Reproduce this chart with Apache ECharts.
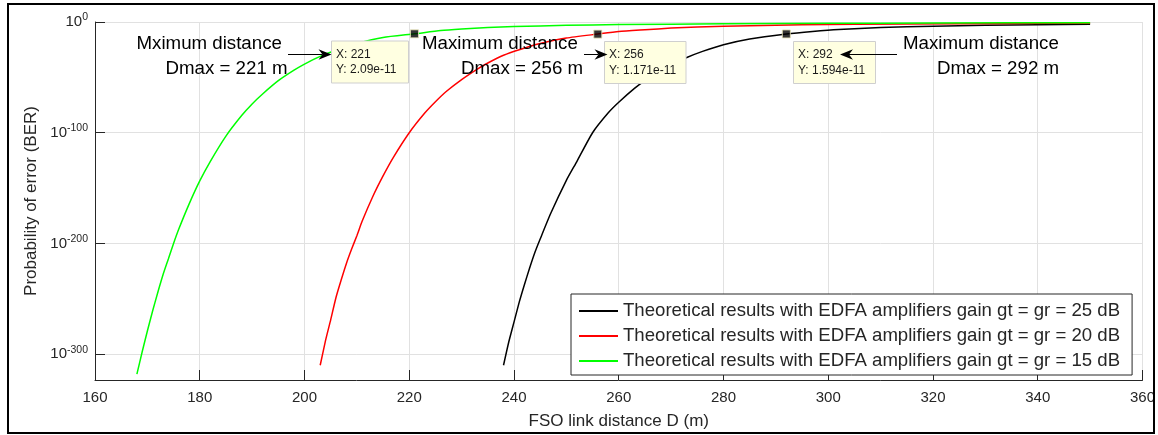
<!DOCTYPE html>
<html>
<head>
<meta charset="utf-8">
<script src="https://cdn.jsdelivr.net/npm/echarts@6/dist/echarts.min.js"></script>
<style>
  html, body { margin: 0; padding: 0; background: #fff; }
  #chart { width: 1158px; height: 435px; }
</style>
</head>
<body>
<div id="chart"></div>
<script>
// distances (m) and log10(BER)
const blackDist = [238, 239, 240, 241, 242, 243, 244, 245, 247, 250, 252, 255, 258, 260, 263, 265, 268, 270, 273, 276, 280, 285, 292, 297, 302, 310, 320, 330, 340, 350];
const blackLogBer = [-310, -289, -271, -253, -237, -222, -208, -196, -173, -143, -126, -100, -82, -72.5, -60, -53, -44, -38.5, -32, -26.5, -20.5, -15.3, -10.8, -8.5, -6.7, -5, -3.8, -3, -2.5, -2.1];

const redDist = [203, 204, 205, 206, 207, 208, 209, 210, 211, 213, 215, 217, 220, 223, 225, 227, 230, 233, 235, 238, 241, 245, 250, 256, 260, 265, 270, 275, 285, 295, 315, 335, 350];
const redLogBer = [-310, -288, -269, -249, -233, -218, -205, -193, -180, -158, -139, -122, -100, -82, -72, -63, -52, -42.5, -37, -30, -25, -19.5, -14.5, -10.9, -8.6, -7, -5.5, -4.5, -3.3, -2.5, -1.7, -1.3, -1.1];

const greenDist = [168, 169, 170, 171, 172, 173, 174, 175, 176, 178, 180, 182, 185, 188, 190, 192, 195, 198, 200, 203, 206, 210, 215, 221, 226, 230, 235, 240, 250, 260, 280, 300, 320, 350];
const greenLogBer = [-318, -298, -279, -261, -244, -228, -214, -200, -187, -164, -143.5, -126, -103, -84.5, -74, -65, -53, -43.5, -38, -31, -25.5, -19.5, -14, -10.7, -7.7, -6.3, -5, -4.1, -3, -2.3, -1.6, -1.2, -0.9, -0.6];

const seriesNames = [
  "Theoretical results with EDFA amplifiers gain gt = gr = 25 dB",
  "Theoretical results with EDFA amplifiers gain gt = gr = 20 dB",
  "Theoretical results with EDFA amplifiers gain gt = gr = 15 dB"
];

// data tips (Dmax points)
const tipDist = [221, 256, 292];
const tipBer = [2.09e-11, 1.171e-11, 1.594e-11];
const tipBerText = ["2.09e-11", "1.171e-11", "1.594e-11"];

const yTicks = [-300, -200, -100, 0];

const FONT = '"Liberation Sans", Arial, Helvetica, sans-serif';
const AXIS = "#262626";
const GRID = "#e1e1e1";

const zip = (xs, ys) => xs.map((x, i) => [x, ys[i]]);

const lineSeries = (name, color, xs, ys) => ({
  name: name,
  type: "line",
  data: zip(xs, ys),
  showSymbol: false,
  symbol: "none",
  smooth: 0.2,
  lineStyle: { color: color, width: 1.5 },
  itemStyle: { color: color },
  z: 3,
});

const chart = echarts.init(document.getElementById("chart"));

// annotation helpers
const text = (str, x, y, size, color) => ({
  type: "text",
  z: 110,
  style: {
    text: str, x: x, y: y,
    font: size + "px " + FONT,
    fill: color || "#000",
    textAlign: "left", align: "left",
    textVerticalAlign: "middle", verticalAlign: "middle",
  },
});

const arrow = (x1, x2, y) => {
  const dir = x2 > x1 ? 1 : -1;
  return [
    { type: "line", z: 110, shape: { x1: x1, y1: y, x2: x2 - dir * 9, y2: y }, style: { stroke: "#000", lineWidth: 1 } },
    {
      type: "polygon", z: 110,
      shape: { points: [[x2, y], [x2 - dir * 13, y - 5.3], [x2 - dir * 9, y], [x2 - dir * 13, y + 5.3]] },
      style: { fill: "#000" },
    },
  ];
};

const tipBox = (i, x, y, w) => [
  { type: "rect", z: 100, shape: { x: x, y: y, width: w, height: 42 }, style: { fill: "#ffffe1", stroke: "#cfcfcf", lineWidth: 1 } },
  text("X: " + tipDist[i], x + 4.5, y + 13.5, 12, "#1a1a1a"),
  text("Y: " + tipBerText[i], x + 4.5, y + 29, 12, "#1a1a1a"),
];

const graphics = [
  { type: "rect", z: 120, shape: { x: 8, y: 4, width: 1146, height: 429 }, style: { fill: null, stroke: "#000", lineWidth: 2 } },
  ...tipBox(0, 331.5, 41, 77),
  ...tipBox(1, 604.5, 41.5, 81.5),
  ...tipBox(2, 793.5, 41.5, 82),
  ...arrow(288, 331.5, 54.5),
  ...arrow(584, 607.5, 54.5),
  ...arrow(897, 840, 54.5),
  text("Mximum distance", 136.5, 43.5, 18.7),
  text("Dmax = " + tipDist[0] + " m", 165.5, 68.5, 18.7),
  text("Maximum distance", 422, 44, 18.7),
  text("Dmax = " + tipDist[1] + " m", 461, 69, 18.7),
  text("Maximum distance", 903, 43.5, 18.7),
  text("Dmax = " + tipDist[2] + " m", 937, 68.5, 18.7),
];

const option = {
  animation: false,
  grid: { left: 95, right: 13, top: 22, bottom: 53 },
  xAxis: {
    type: "value",
    min: 160,
    max: 360,
    interval: 20,
    axisLine: { show: true, onZero: false, lineStyle: { color: AXIS, width: 1 } },
    axisTick: { show: true, inside: true, length: 10, lineStyle: { color: AXIS } },
    axisLabel: { fontFamily: FONT, fontSize: 15, color: AXIS, margin: 10 },
    splitLine: { show: true, lineStyle: { color: GRID, width: 1 } },
    name: "FSO link distance D (m)",
    nameLocation: "middle",
    nameGap: 33,
    nameTextStyle: { fontFamily: FONT, fontSize: 17, color: AXIS },
  },
  yAxis: {
    type: "value",
    min: -323.3,
    max: 0,
    axisLine: { show: true, onZero: false, lineStyle: { color: AXIS, width: 1 } },
    axisTick: { show: true, inside: true, length: 10, customValues: yTicks, lineStyle: { color: AXIS } },
    axisLabel: {
      customValues: yTicks,
      margin: 7,
      formatter: (v) => "{b|10}{s|" + v + "}",
      rich: {
        b: { fontFamily: FONT, fontSize: 15, color: AXIS },
        s: { fontFamily: FONT, fontSize: 10.5, color: AXIS, padding: [0, 0, 9, 0] },
      },
    },
    splitLine: { show: true, lineStyle: { color: GRID, width: 1 } },
    name: "Probability of error (BER)",
    nameLocation: "middle",
    nameGap: 49,
    nameTextStyle: { fontFamily: FONT, fontSize: 17, color: AXIS },
  },
  legend: {
    orient: "vertical",
    left: 571,
    top: 294,
    data: seriesNames.map((n) => ({ name: n, icon: "rect" })),
    itemWidth: 39,
    itemHeight: 2,
    itemGap: 5,
    padding: [7, 12, 4, 8],
    borderColor: AXIS,
    borderWidth: 1,
    backgroundColor: "#fff",
    selectedMode: false,
    textStyle: { fontFamily: FONT, fontSize: 18.6, color: AXIS, lineHeight: 20 },
  },
  series: [
    lineSeries(seriesNames[0], "#000000", blackDist, blackLogBer),
    lineSeries(seriesNames[1], "#ff0000", redDist, redLogBer),
    lineSeries(seriesNames[2], "#00ff00", greenDist, greenLogBer),
    {
      name: "datatips",
      type: "scatter",
      data: zip(tipDist, tipBer.map((b) => Math.log10(b))),
      symbol: "rect",
      symbolSize: 8,
      itemStyle: { color: "#000", borderColor: "#e6e2b4", borderWidth: 1 },
      z: 5,
    },
  ],
  graphic: graphics,
};

chart.setOption(option);
</script>
</body>
</html>
